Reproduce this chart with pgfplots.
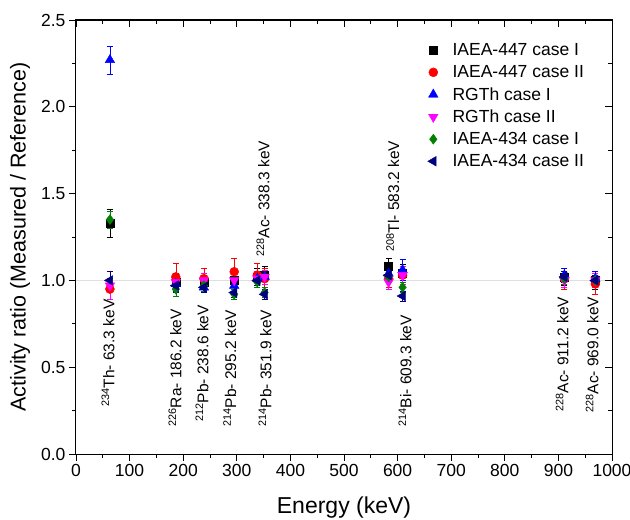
\documentclass[border=0pt]{standalone}
\usepackage{fontspec}
\setmainfont{Liberation Sans}
\usepackage{pgfplots}
\pgfplotsset{compat=1.18}
\usetikzlibrary{calc}
\definecolor{mynavy}{RGB}{0,0,128}
\definecolor{mygreen}{RGB}{0,128,0}
\definecolor{mymag}{RGB}{255,0,255}

\pgfplotstableread{
x y e
63.3 1.33 0.08
186.2 0.99 0.05
238.6 0.99 0.04
295.2 1.00 0.05
338.3 1.02 0.05
351.9 1.03 0.05
583.2 1.08 0.05
609.3 1.04 0.05
911.2 1.02 0.05
969.0 1.00 0.05
}\tblA
\pgfplotstableread{
x y e
63.3 0.95 0.06
186.2 1.02 0.08
238.6 1.01 0.06
295.2 1.05 0.08
338.3 1.03 0.07
351.9 1.01 0.06
583.2 1.01 0.05
609.3 1.03 0.05
911.2 1.01 0.06
969.0 0.98 0.06
}\tblB
\pgfplotstableread{
x y e
63.3 2.27 0.08
186.2 0.98 0.04
238.6 0.96 0.03
295.2 0.97 0.03
338.3 1.01 0.04
351.9 1.02 0.04
583.2 1.04 0.04
609.3 1.06 0.06
911.2 1.03 0.04
969.0 1.01 0.04
}\tblC
\pgfplotstableread{
x y e
63.3 0.97 0.08
186.2 0.99 0.04
238.6 1.00 0.04
295.2 1.00 0.04
338.3 1.01 0.04
351.9 1.02 0.04
583.2 0.99 0.04
609.3 1.03 0.05
911.2 1.00 0.04
969.0 1.00 0.04
}\tblD
\pgfplotstableread{
x y e
63.3 1.35 0.05
186.2 0.95 0.04
238.6 0.97 0.03
295.2 0.92 0.03
338.3 0.99 0.03
351.9 0.93 0.03
583.2 1.02 0.03
609.3 0.96 0.03
911.2 1.01 0.03
969.0 1.00 0.03
}\tblE
\pgfplotstableread{
x y e
63.3 1.00 0.05
186.2 0.97 0.04
238.6 0.96 0.03
295.2 0.93 0.03
338.3 1.00 0.03
351.9 0.92 0.03
583.2 1.03 0.03
609.3 0.91 0.03
911.2 1.02 0.03
969.0 1.00 0.03
}\tblF

\begin{document}
\begin{tikzpicture}
\pgfplotsset{
  eb/.style={only marks,
     legend image code/.code={\draw[##1] plot coordinates {(0.25cm,0cm)}; \path (0cm,0cm) (0.85cm,0cm);},
     error bars/y dir=both, error bars/y explicit,
     error bars/error bar style={line width=0.6pt},
     error bars/error mark options={rotate=90, mark size=3pt, line width=0.6pt}},
}
\begin{axis}[
  scale only axis, width=536pt, height=434pt,
  xmin=0, xmax=1000, ymin=0, ymax=2.5,
  xtick={0,100,200,300,400,500,600,700,800,900,1000}, minor x tick num=1,
  ytick={0,0.5,1,1.5,2,2.5}, minor y tick num=1,
  xticklabel style={/pgf/number format/.cd, 1000 sep={}},
  yticklabel style={/pgf/number format/.cd, fixed, fixed zerofill, precision=1},
  /pgf/number format/assume math mode=true,
  tick align=outside, xtick pos=left, ytick pos=left,
  major tick length=7pt, minor tick length=4pt,
  tick style={black, line width=0.8pt},
  axis line style={line width=1pt},
  ticklabel style={font=\fontsize{17.5}{20}\selectfont},
  xlabel={Energy (keV)}, ylabel={Activity ratio (Measured / Reference)},
  xlabel style={at={(axis description cs:0.5,-0.1244)}, anchor=center, font=\fontsize{23}{26}\selectfont},
  ylabel style={at={(axis description cs:-0.1045,0.5)}, anchor=center, font=\fontsize{21.5}{24}\selectfont},
  legend style={at={(0.647,0.955)}, anchor=north west, draw=none, fill=none,
     font=\fontsize{17.5}{20}\selectfont, row sep=4.3pt},
  legend cell align=left,
]
\addplot[gray!25, line width=0.5pt, forget plot] coordinates {(0,1) (1000,1)};
\addplot[eb, black, mark=square*, mark size=4pt] table[x=x,y=y,y error=e] {\tblA};
\addlegendentry{IAEA-447 case I}
\addplot[eb, red, mark=*, mark size=4.5pt] table[x=x,y=y,y error=e] {\tblB};
\addlegendentry{IAEA-447 case II}
\addplot[eb, blue, mark=triangle*, mark size=5.5pt] table[x=x,y=y,y error=e] {\tblC};
\addlegendentry{RGTh case I}
\addplot[eb, mymag, mark=triangle*, mark size=5.5pt, mark options={rotate=180}] table[x=x,y=y,y error=e] {\tblD};
\addlegendentry{RGTh case II}
\addplot[eb, mygreen, mark=diamond*, mark size=5pt] table[x=x,y=y,y error=e] {\tblE};
\addlegendentry{IAEA-434 case I}
\addplot[eb, mynavy, mark=triangle*, mark size=5.5pt, mark options={rotate=90}] table[x=x,y=y,y error=e] {\tblF};
\addlegendentry{IAEA-434 case II}

\begin{scope}[every node/.style={rotate=90, anchor=west, inner sep=0pt, font=\fontsize{15.5}{18}\selectfont}]
\node at (axis cs:59.7,0.27) {\textsuperscript{234}Th- 63.3 keV};
\node at (axis cs:184.7,0.156) {\textsuperscript{226}Ra- 186.2 keV};
\node at (axis cs:235,0.184) {\textsuperscript{212}Pb- 238.6 keV};
\node at (axis cs:287,0.156) {\textsuperscript{214}Pb- 295.2 keV};
\node at (axis cs:352.6,0.156) {\textsuperscript{214}Pb- 351.9 keV};
\node at (axis cs:349,1.135) {\textsuperscript{228}Ac- 338.3 keV};
\node at (axis cs:591,1.164) {\textsuperscript{208}Tl- 583.2 keV};
\node at (axis cs:614,0.156) {\textsuperscript{214}Bi- 609.3 keV};
\node at (axis cs:907,0.242) {\textsuperscript{228}Ac- 911.2 keV};
\node at (axis cs:963,0.236) {\textsuperscript{228}Ac- 969.0 keV};
\end{scope}
\end{axis}
\begin{axis}[
  scale only axis, width=536pt, height=434pt,
  xmin=0, xmax=1000, ymin=0, ymax=2.5,
  xtick={0,100,200,300,400,500,600,700,800,900,1000}, minor x tick num=1,
  ytick={0,0.5,1,1.5,2,2.5}, minor y tick num=1,
  xticklabels={}, yticklabels={},
  tick align=inside, xtick pos=right, ytick pos=right,
  major tick length=7pt, minor tick length=4pt,
  tick style={black, line width=0.8pt},
  axis line style={line width=1pt},
]
\end{axis}
\pgfresetboundingbox
\path ($(current axis.south west)+(-76pt,-66pt)$) rectangle ($(current axis.north east)+(18pt,20pt)$);
\end{tikzpicture}
\end{document}
